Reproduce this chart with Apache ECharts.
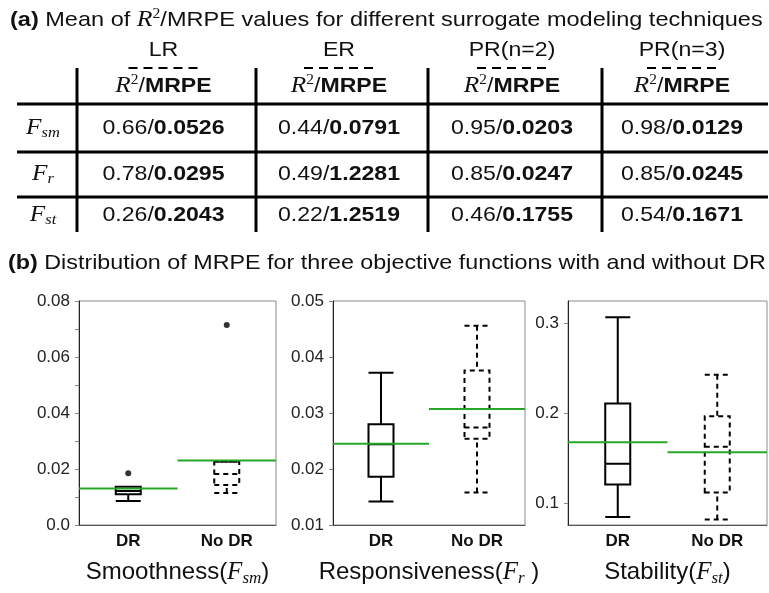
<!DOCTYPE html>
<html>
<head>
<meta charset="utf-8">
<script src="https://cdn.jsdelivr.net/npm/echarts@6/dist/echarts.min.js"></script>
<style>
html,body{margin:0;padding:0;background:#fff;}
#chart{width:769px;height:593px;}
</style>
</head>
<body>
<div id="chart"></div>
<script>
// ---------- Table (a) data ----------
const methods = ['LR', 'ER', 'PR(n=2)', 'PR(n=3)'];
const objectiveSubs = ['sm', 'r', 'st'];
const r2Values = [
  [0.66, 0.44, 0.95, 0.98],
  [0.78, 0.49, 0.85, 0.85],
  [0.26, 0.22, 0.46, 0.54]
];
const mrpeValues = [
  [0.0526, 0.0791, 0.0203, 0.0129],
  [0.0295, 1.2281, 0.0247, 0.0245],
  [0.2043, 1.2519, 0.1755, 0.1671]
];

// ---------- Boxplots (b) data ----------
const categories = ['DR', 'No DR'];
// [min, Q1, median, Q3, max]
const smBox = [[0.0086, 0.0110, 0.0121, 0.0137, 0.0137], [0.0114, 0.0143, 0.0182, 0.0226, 0.0226]];
const rBox = [[0.0142, 0.0186, 0.0244, 0.0280, 0.0372], [0.0158, 0.0254, 0.0274, 0.0376, 0.0456]];
const stBox = [[0.085, 0.121, 0.144, 0.211, 0.307], [0.082, 0.112, 0.163, 0.197, 0.243]];
const smMean = [0.0130, 0.0230];
const rMean = [0.0245, 0.0307];
const stMean = [0.168, 0.157];
const smOutliers = [[0, 0.0185], [1, 0.0714]];
const smTicks = [0, 0.01, 0.02, 0.03, 0.04, 0.05, 0.06, 0.07, 0.08];
const smTickLabels = [0, 0.02, 0.04, 0.06, 0.08];
const rTicks = [0.01, 0.02, 0.03, 0.04, 0.05];
const stTicks = [0.1, 0.2, 0.3];
const panelNames = ['Smoothness(', 'Responsiveness(', 'Stability('];
const panelSubs = ['sm', 'r', 'st'];
const panelCloses = [')', ' )', ')'];

const SANS = '"Liberation Sans", Arial, Helvetica, sans-serif';
const SERIF = '"Liberation Serif", "DejaVu Serif", serif';
const GREEN = '#26a826';

// ---------- Table layout ----------
const vLines = [77, 256, 428, 602, 768];
const hLines = [104, 152, 197];
const rowY = [128, 174, 215];
const tableLeft = 17;

const baseRich = {
  n: { fontFamily: SANS, fontSize: 21, fill: '#111', lineHeight: 26 },
  b: { fontFamily: SANS, fontSize: 21, fontWeight: 'bold', fill: '#111', lineHeight: 26 },
  ri: { fontFamily: SERIF, fontSize: 23, fontStyle: 'italic', fill: '#111', lineHeight: 26 },
  sup: { fontFamily: SERIF, fontSize: 14, fill: '#111', lineHeight: 14, verticalAlign: 'top' },
  sub: { fontFamily: SERIF, fontSize: 15, fontStyle: 'italic', fill: '#111', lineHeight: 14, verticalAlign: 'bottom' }
};

const graphic = [];
function txt(x, y, text, align, sx) {
  graphic.push({
    type: 'text', x: x, y: y, z: 10, scaleX: sx || 1.1,
    style: { text: text, align: align || 'center', verticalAlign: 'middle', rich: baseRich }
  });
}
function line(x1, y1, x2, y2, w, dash) {
  graphic.push({
    type: 'line', z: 9,
    shape: { x1: x1, y1: y1, x2: x2, y2: y2 },
    style: { stroke: '#000', lineWidth: w, lineDash: dash || null }
  });
}

// titles
txt(10, 20, '{b|(a)}{n| Mean of }{ri|R}{sup|2}{n|/MRPE values for different surrogate modeling techniques}', 'left', 1.12);
txt(8, 263, '{b|(b)}{n| Distribution of MRPE for three objective functions with and without DR}', 'left', 1.11);

// table lines
hLines.forEach(y => line(tableLeft, y, 768, y, 3));
vLines.slice(0, 4).forEach(x => line(x, 68, x, 232, 3));

// header
methods.forEach((m, i) => {
  const cx = (vLines[i] + vLines[i + 1]) / 2 - 3;
  txt(cx, 50, '{n|' + m + '}');
  line(cx - 35, 68, cx + 35, 68, 2, [9, 6]);
  txt(cx, 86, '{ri|R}{sup|2}{n|/}{b|MRPE}');
});
// rows
objectiveSubs.forEach((s, r) => {
  txt(43, rowY[r], '{ri|F}{sub|' + s + '}');
  methods.forEach((m, c) => {
    const cx = (vLines[c] + vLines[c + 1]) / 2 - 3;
    txt(cx, rowY[r], '{n|' + r2Values[r][c].toFixed(2) + '/}{b|' + mrpeValues[r][c].toFixed(4) + '}');
  });
});

// ---------- Charts ----------
const grids = [
  { left: 79, top: 301, width: 197, height: 224 },
  { left: 333, top: 301, width: 192, height: 224 },
  { left: 568, top: 301, width: 199, height: 224 }
].map(g => Object.assign(g, { show: true, borderColor: '#8c8c8c', borderWidth: 1, backgroundColor: 'transparent' }));

const nameRich = {
  n: { fontFamily: SANS, fontSize: 24, color: '#111', lineHeight: 30 },
  f: { fontFamily: SERIF, fontSize: 25, fontStyle: 'italic', color: '#111', lineHeight: 30 },
  s: { fontFamily: SERIF, fontSize: 17, fontStyle: 'italic', color: '#111', lineHeight: 15, verticalAlign: 'bottom' }
};

const xAxes = [0, 1, 2].map(i => ({
  type: 'category', gridIndex: i, data: categories, boundaryGap: true,
  axisLine: { show: true, lineStyle: { color: '#555', width: 1 } },
  axisTick: { show: false },
  axisLabel: { fontFamily: SANS, fontSize: 17, fontWeight: 'bold', color: '#111', margin: 8 },
  splitLine: { show: false },
  name: '{n|' + panelNames[i] + '}{f|F}{s|' + panelSubs[i] + '}{n|' + panelCloses[i] + '}',
  nameLocation: 'middle', nameGap: 32,
  nameTextStyle: { rich: nameRich }
}));

function yAxis(i, min, max, ticks, labels, fmt) {
  return {
    type: 'value', gridIndex: i, min: min, max: max,
    axisLine: { show: true, lineStyle: { color: '#222', width: 1 } },
    axisTick: { show: true, inside: false, length: 4, lineStyle: { color: '#888' }, customValues: ticks },
    axisLabel: { fontFamily: SANS, fontSize: 17, color: '#222', margin: 9, customValues: labels, formatter: fmt, showMinLabel: true, showMaxLabel: true },
    splitLine: { show: false }
  };
}
const yAxes = [
  yAxis(0, 0, 0.08, smTicks, smTickLabels, v => (Math.abs(v) < 1e-9 ? '0.0' : Number(v).toFixed(2))),
  yAxis(1, 0.01, 0.05, rTicks, rTicks, v => Number(v).toFixed(2)),
  yAxis(2, 0.076, 0.325, stTicks, stTicks, v => Number(v).toFixed(1))
];

function boxSeries(i, boxes) {
  return {
    type: 'boxplot', xAxisIndex: i, yAxisIndex: i, z: 3,
    boxWidth: [25, 25],
    itemStyle: { color: 'rgba(255,255,255,0)', borderColor: '#000', borderWidth: 2 },
    data: boxes.map((b, k) => ({
      value: b,
      itemStyle: { color: 'rgba(255,255,255,0)', borderColor: '#000', borderWidth: 2, borderType: k === 1 ? [5, 4] : 'solid' }
    })),
    emphasis: { disabled: true }
  };
}
function meanSeries(i, means) {
  return {
    type: 'custom', xAxisIndex: i, yAxisIndex: i, z: 4,
    data: means.map((m, k) => [k, m]),
    renderItem: function (params, api) {
      const p = api.coord([api.value(0), api.value(1)]);
      const w = api.size([1, 0])[0];
      return {
        type: 'line',
        shape: { x1: p[0] - w / 2, y1: p[1], x2: p[0] + w / 2, y2: p[1] },
        style: { stroke: GREEN, lineWidth: 2 }
      };
    }
  };
}

const series = [
  boxSeries(0, smBox), meanSeries(0, smMean),
  {
    type: 'scatter', xAxisIndex: 0, yAxisIndex: 0, z: 5,
    symbol: 'circle', symbolSize: 6, itemStyle: { color: '#000' },
    data: smOutliers
  },
  boxSeries(1, rBox), meanSeries(1, rMean),
  boxSeries(2, stBox), meanSeries(2, stMean)
];

const chart = echarts.init(document.getElementById('chart'), null, { renderer: 'canvas' });
chart.setOption({
  animation: false,
  backgroundColor: '#fff',
  graphic: graphic,
  grid: grids,
  xAxis: xAxes,
  yAxis: yAxes,
  series: series
});
</script>
</body>
</html>
